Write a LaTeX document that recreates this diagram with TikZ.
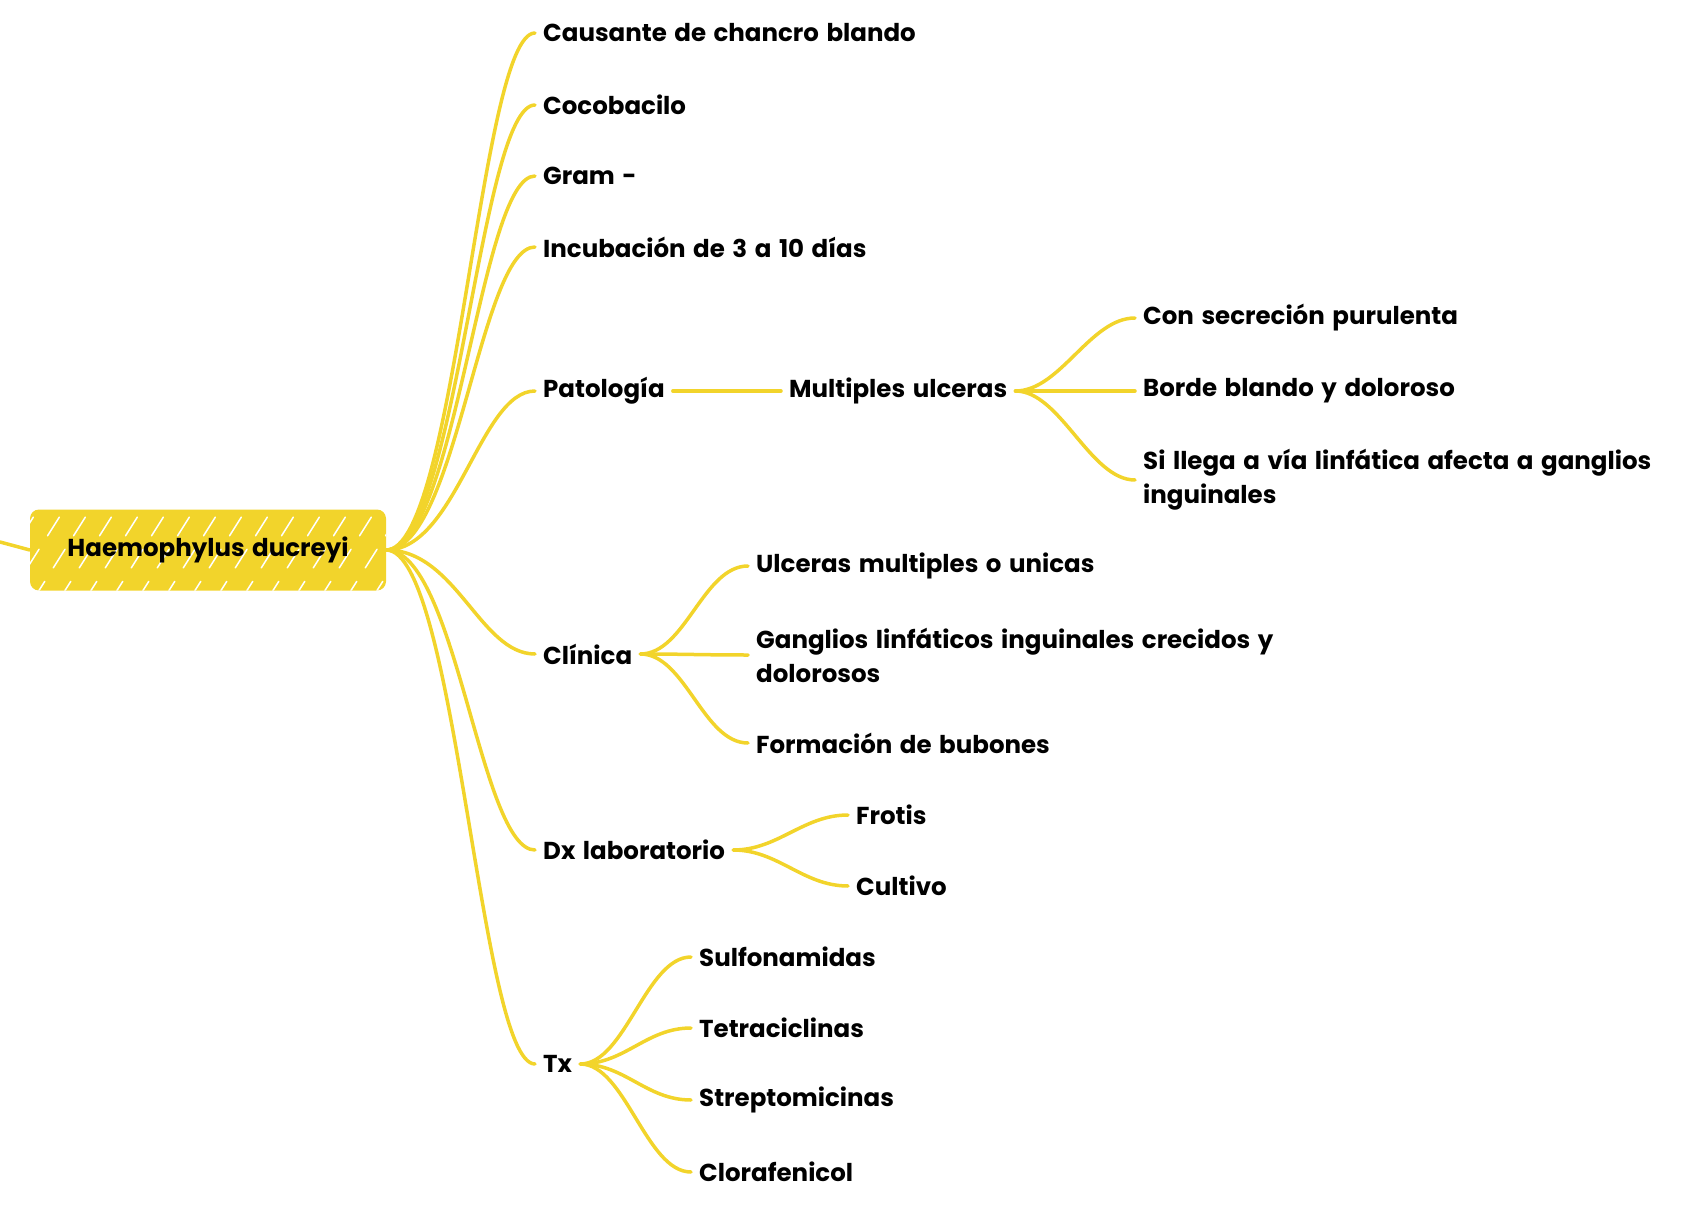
\documentclass[tikz,border=0pt]{standalone}
\usepackage{fontspec}
\setmainfont{Poppins}[WordSpace=1.45]
\definecolor{hy}{HTML}{F2D42B}
\begin{document}
\begin{tikzpicture}[x=1pt,y=-1pt,
  lab/.style={anchor=west,font=\bfseries\fontsize{24.5}{34}\selectfont,inner xsep=8pt,inner ysep=2pt,align=left},
  rootbox/.style={fill=hy,rounded corners=9pt,minimum width=356pt,minimum height=81pt,inner sep=0pt},
  conn/.style={draw=hy,line width=3.5pt,line cap=round}]
\useasboundingbox (0,0) rectangle (1701,1217);
% root
\node[rootbox] (root) at (208,550) {};
\begin{scope}
  \clip[rounded corners=9pt] (root.south west) rectangle (root.north east);
  \foreach \i in {0,26,...,480}{
    \draw[white,line width=1.5pt,dash pattern=on 22pt off 16pt,line cap=round] (\i-45,600) -- (\i+15,505);
  }
\end{scope}
\node[font=\bfseries\fontsize{24.5}{30}\selectfont] (roottxt) at (root.center) {Haemophylus ducreyi};
\coordinate (stub) at (0,542);
\draw[conn] (stub) -- (root.west);
% level 1
\node[lab] (c1) at (535,33) {Causante de chancro blando};
\node[lab] (c2) at (535,105) {Cocobacilo};
\node[lab] (c3) at (535,176) {Gram -};
\node[lab] (c4) at (535,247) {Incubación de 3 a 10 días};
\node[lab] (pat) at (535,391) {Patología};
\node[lab] (cli) at (535,654) {Clínica};
\node[lab] (dx) at (535,850) {Dx laboratorio};
\node[lab] (tx) at (535,1064) {Tx};
\foreach \n in {c1,c2,c3,c4,pat,cli,dx,tx}{
  \draw[conn] (root.east) .. controls +(70,0) and +(-55,0) .. (\n.west);
}
% Patologia
\node[lab] (mu) at (781,391) {Multiples ulceras};
\draw[conn] (pat.east) -- (mu.west);
\node[lab] (m1) at (1135,318) {Con secreción purulenta};
\node[lab] (m2) at (1135,391) {Borde blando y doloroso};
\node[lab] (m3) at (1135,480) {Si llega a vía linfática afecta a ganglios\\inguinales};
\foreach \n in {m1,m2,m3}{
  \draw[conn] (mu.east) .. controls +(45,0) and +(-45,0) .. (\n.west);
}
% Clinica
\node[lab] (k1) at (748,566) {Ulceras multiples o unicas};
\node[lab] (k2) at (748,655) {Ganglios linfáticos inguinales crecidos y\\dolorosos};
\node[lab] (k3) at (748,743) {Formación de bubones};
\foreach \n in {k1,k2,k3}{
  \draw[conn] (cli.east) .. controls +(45,0) and +(-45,0) .. (\n.west);
}
% Dx
\node[lab] (d1) at (848,815) {Frotis};
\node[lab] (d2) at (848,886) {Cultivo};
\foreach \n in {d1,d2}{
  \draw[conn] (dx.east) .. controls +(45,0) and +(-45,0) .. (\n.west);
}
% Tx
\node[lab] (t1) at (691,957) {Sulfonamidas};
\node[lab] (t2) at (691,1028) {Tetraciclinas};
\node[lab] (t3) at (691,1100) {Streptomicinas};
\node[lab] (t4) at (691,1172) {Clorafenicol};
\foreach \n in {t1,t2,t3,t4}{
  \draw[conn] (tx.east) .. controls +(45,0) and +(-45,0) .. (\n.west);
}
\end{tikzpicture}
\end{document}
